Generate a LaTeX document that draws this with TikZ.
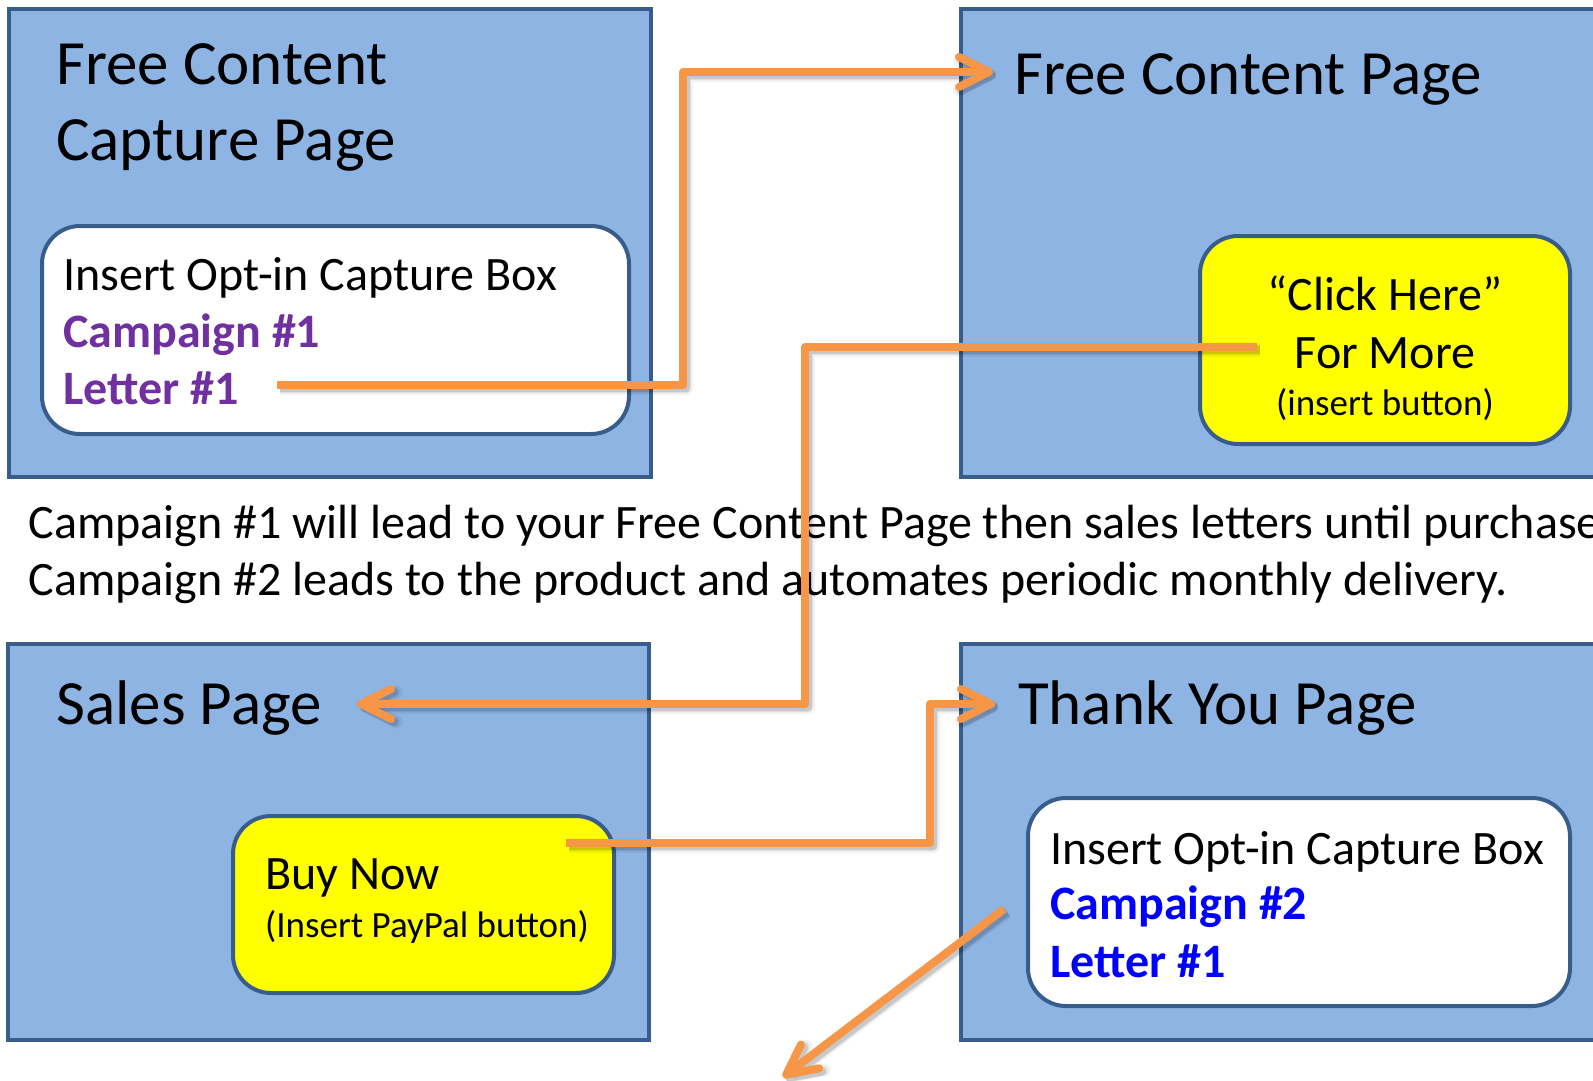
\documentclass[tikz,border=0pt]{standalone}
\usepackage{fontspec}
\setmainfont{Carlito}
\usetikzlibrary{arrows.meta}
\definecolor{pagefill}{HTML}{8EB4E3}
\definecolor{pageline}{HTML}{385D8A}
\definecolor{flow}{HTML}{F79646}
\definecolor{purpletxt}{HTML}{7030A0}
\definecolor{bluetxt}{HTML}{0000FF}
\definecolor{btnfill}{HTML}{FFFF00}
\begin{document}
\begin{tikzpicture}[x=1pt,y=-1pt,
  pagebox/.style={draw=pageline, fill=pagefill, line width=4.5pt, inner sep=0pt, outer sep=0pt},
  optbox/.style={draw=pageline, fill=white, line width=4pt, rounded corners=38pt, inner sep=0pt, outer sep=0pt},
  btnbox/.style={draw=pageline, fill=btnfill, line width=4pt, rounded corners=38pt, inner sep=0pt, outer sep=0pt},
  title/.style={anchor=base west, inner sep=0pt, font=\fontsize{63}{76}\selectfont},
  body/.style={anchor=base west, inner sep=0pt, font=\fontsize{48}{58}\selectfont},
  bodybf/.style={body, font=\fontsize{48}{58}\selectfont\bfseries},
  small/.style={anchor=base west, inner sep=0pt, font=\fontsize{37}{45}\selectfont},
  flowtip/.style={-{Straight Barb[length=30pt, width=30pt, round]}},
  flowline/.style={draw=flow, line width=8pt, line join=round, flowtip},
  flowshadow/.style={draw=black, opacity=#1, line join=round, flowtip}
]
\useasboundingbox (0,0) rectangle (1593,1080);
\clip (0,0) rectangle (1593,1080);

% page panels
\node[pagebox, minimum width=642pt, minimum height=468pt] (capture) at (330,243) {};
\node[pagebox, minimum width=659pt, minimum height=468pt] (freepage) at (1290.5,243) {};
\node[pagebox, minimum width=641pt, minimum height=396pt] (sales) at (328.5,842) {};
\node[pagebox, minimum width=659pt, minimum height=396pt] (thanks) at (1290.5,842) {};

% inner boxes
\node[optbox, minimum width=587pt, minimum height=208pt] (optin1) at (335.5,330) {};
\node[btnbox, minimum width=370pt, minimum height=208pt] (clickbtn) at (1385,340) {};
\node[btnbox, minimum width=381pt, minimum height=177pt] (buybtn) at (423.5,904.5) {};
\node[optbox, minimum width=542pt, minimum height=208pt] (optin2) at (1299,902) {};

% panel titles
\node[title] (t1a) at (56,84) {Free Content};
\node[title] (t1b) at (56,160) {Capture Page};
\node[title] (t2) at (1014,94) {Free Content Page};
\node[title] (t3) at (56,724) {Sales Page};
\node[title] (t4) at (1018,724) {Thank You Page};

% opt-in box, campaign 1
\node[body] (o1a) at (63,290) {Insert Opt-in Capture Box};
\node[bodybf, text=purpletxt] (o1b) at (63,347) {Campaign \#1};
\node[bodybf, text=purpletxt] (o1c) at (63,404) {Letter \#1};

% click button
\node[body, anchor=base] (c1) at (1385,310) {“Click Here”};
\node[body, anchor=base] (c2) at (1385,368) {For More};
\node[small, anchor=base] (c3) at (1385,415) {(insert button)};

% buy button
\node[body] (b1) at (265,889) {Buy Now};
\node[small] (b2) at (265,937) {(Insert PayPal button)};

% opt-in box, campaign 2
\node[body] (o2a) at (1050,864) {Insert Opt-in Capture Box};
\node[bodybf, text=bluetxt] (o2b) at (1050,919) {Campaign \#2};
\node[bodybf, text=bluetxt] (o2c) at (1050,977) {Letter \#1};

% explanation
\node[body] (m1) at (28.5,538) {Campaign \#1 will lead to your Free Content Page then sales letters until purchase};
\node[body] (m2) at (28.5,595) {Campaign \#2 leads to the product and automates periodic monthly delivery.};

% flow connectors
\coordinate (s1) at (277,385);  \coordinate (k1) at (683,72);  \coordinate (e1) at (993,72);
\coordinate (s2) at (1257,347); \coordinate (k2) at (805,704); \coordinate (e2) at (357,704);
\coordinate (s3) at (566,843);  \coordinate (k3) at (930,704); \coordinate (e3) at (995,704);
\coordinate (s4) at (1004,909); \coordinate (e4) at (783,1077);

% soft drop shadow under the connectors
\begin{scope}[transform canvas={shift={(3pt,-3pt)}}]
  \foreach \w/\o in {13/0.05, 10/0.08, 8/0.10} {
    \draw[flowshadow=\o, line width=\w pt] (s1) -| (k1) -- (e1);
    \draw[flowshadow=\o, line width=\w pt] (s2) -| (k2) -- (e2);
    \draw[flowshadow=\o, line width=\w pt] (s3) -| (k3) -- (e3);
    \draw[flowshadow=\o, line width=\w pt] (s4) -- (e4);
  }
\end{scope}
\draw[flowline] (s1) -| (k1) -- (e1);
\draw[flowline] (s2) -| (k2) -- (e2);
\draw[flowline] (s3) -| (k3) -- (e3);
\draw[flowline] (s4) -- (e4);
\end{tikzpicture}
\end{document}
